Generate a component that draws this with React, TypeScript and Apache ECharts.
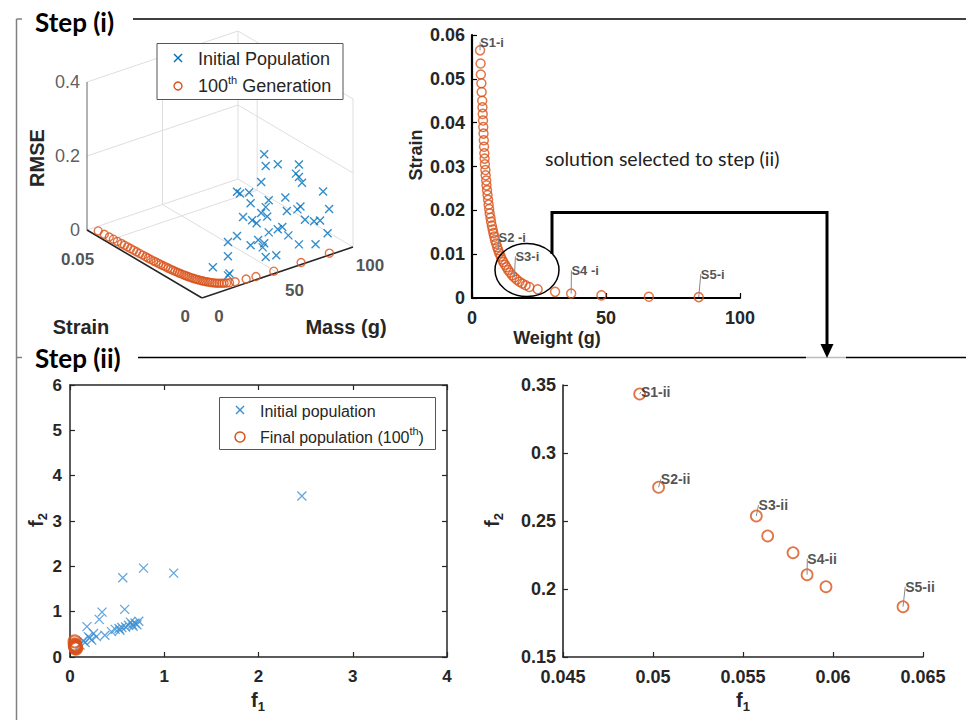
import React, { useEffect, useRef } from "react";
import * as echarts from "echarts";

// ---------------- DATA ----------------
// Step (i), 3-D view: initial population [mass (g), strain, RMSE]
const initPop3D: number[][] = [
  [45, 0.003, 0.317], [46, 0.003, 0.284], [54, 0.003, 0.278], [68, 0.003, 0.258], [66, 0.003, 0.236],
  [68, 0.003, 0.224], [70, 0.003, 0.206], [43, 0.003, 0.245], [27, 0.003, 0.241], [29, 0.003, 0.233],
  [35, 0.003, 0.228], [36, 0.003, 0.197], [48, 0.003, 0.189], [59, 0.003, 0.181], [84, 0.003, 0.163],
  [46, 0.003, 0.173], [43, 0.003, 0.161], [47, 0.003, 0.146], [31, 0.003, 0.167], [37, 0.003, 0.15],
  [40, 0.003, 0.138], [60, 0.003, 0.143], [67, 0.003, 0.138], [69, 0.003, 0.143], [88, 0.003, 0.11],
  [72, 0.003, 0.103], [78, 0.003, 0.091], [82, 0.003, 0.087], [54, 0.003, 0.102], [57, 0.003, 0.104],
  [48, 0.003, 0.102], [61, 0.003, 0.076], [87, 0.003, 0.046], [27, 0.003, 0.121], [21, 0.003, 0.113],
  [36, 0.003, 0.084], [41, 0.003, 0.091], [45, 0.003, 0.077], [44, 0.003, 0.067], [68, 0.003, 0.042],
  [79, 0.003, 0.027], [46, 0.003, 0.038], [53, 0.003, 0.033], [21, 0.003, 0.075], [11, 0.003, 0.059],
  [22, 0.003, 0.027], [21, 0.003, 0.023],
];
// 100th generation Pareto front: weight (g) and strain
const frontWeight = [3.0, 3.2, 3.3, 3.5, 3.6, 3.8, 3.9, 4.0, 4.1, 4.2, 4.3, 4.4, 4.5, 4.6, 4.7, 4.8, 5.0, 5.1, 5.3, 5.4,
  5.6, 5.8, 6.0, 6.2, 6.4, 6.6, 6.9, 7.1, 7.4, 7.7, 8.0, 8.3, 8.6, 9.0, 9.4, 9.8, 10.2, 10.7, 11.2, 11.7,
  12.3, 12.9, 13.5, 14.2, 15.0, 15.8, 16.7, 17.7, 18.8, 20.0, 21.4, 24.5, 31.0, 37.0, 48.3, 66.0, 84.6];
const frontStrain = [0.0565, 0.0535, 0.051, 0.049, 0.047, 0.045, 0.0435, 0.042, 0.0405, 0.039, 0.0375, 0.036, 0.0345,
  0.033, 0.0318, 0.0305, 0.0292, 0.028, 0.0268, 0.0257, 0.0246, 0.0235, 0.0224, 0.0213, 0.0203, 0.0193, 0.0183,
  0.0174, 0.0165, 0.0156, 0.0148, 0.014, 0.0132, 0.0124, 0.0116, 0.0109, 0.0102, 0.0095, 0.0088, 0.0082, 0.0076,
  0.007, 0.0064, 0.0058, 0.0052, 0.0047, 0.0042, 0.0037, 0.0033, 0.0029, 0.0025, 0.002, 0.0014, 0.001, 0.0006,
  0.0003, 0.0002];
const FRONT_RMSE = 0.004;
const stepOneLabels = ["S1-i", "S2 -i", "S3-i", "S4 -i", "S5-i"];
const stepOneLabelIdx = [0, 35, 45, 53, 56];

// 3-D axis ticks
const rmseTicks = [0, 0.2, 0.4];
const strainTicks3D = [0, 0.05];
const massTicks3D = [0, 50, 100];

// Step (ii): initial population (f1, f2)
const initF1 = [2.46, 0.78, 1.10, 0.56, 0.58, 0.34, 0.31, 0.18, 0.37, 0.195, 0.23, 0.14, 0.106, 0.28,
  0.44, 0.48, 0.52, 0.55, 0.59, 0.62, 0.66, 0.69, 0.73, 0.67, 0.53, 0.64, 0.71, 0.25, 0.21, 0.16];
const initF2 = [3.55, 1.96, 1.85, 1.75, 1.05, 0.99, 0.83, 0.67, 0.48, 0.45, 0.375, 0.36, 0.265, 0.45,
  0.56, 0.61, 0.63, 0.65, 0.66, 0.70, 0.72, 0.75, 0.79, 0.68, 0.59, 0.77, 0.71, 0.52, 0.42, 0.32];
// Step (ii): final population (100th)
const finalF1 = [0.04926, 0.05031, 0.05574, 0.05637, 0.05778, 0.05856, 0.05961, 0.06389];
const finalF2 = [0.3434, 0.2748, 0.2537, 0.239, 0.2267, 0.2105, 0.2017, 0.187];
const stepTwoLabels = ["S1-ii", "S2-ii", "S3-ii", "S4-ii", "S5-ii"];
const stepTwoLabelIdx = [0, 1, 2, 5, 7];

// ---------------- STYLE / LAYOUT ----------------
const BLUE = "#0072BD";
const BLUE_L = "#3d8fd1";
const ORANGE = "#D95319";
const AXIS = "#262626";
const SANS = "'Liberation Sans', Arial, sans-serif";
const TITLE = "Lato, 'Open Sans', sans-serif";
const CROSS = "path://M0,0L10,10M10,0L0,10";

// 3-D projection (oblique view) into the hidden pixel-like grid 0
const S_MAX = 0.06, M_MAX = 100, R_MAX = 0.4;
const PX_S = 115, PX_M = 151, PY_S = 68, PY_M = 51, PY_R = 148;
const proj = (m: number, s: number, r: number) => [
  PX_S * (1 - s / S_MAX) + PX_M * (m / M_MAX),
  PY_S * (s / S_MAX) + PY_M * (m / M_MAX) + PY_R * (r / R_MAX),
];

const oneLabelOff = [[12, -8], [14, -13], [13, -21], [14, -23], [14, -23]];
const twoLabelOff = [[16, -2], [17, -8], [17, -11], [15, -16], [17, -20]];

const fmt = (v: number) => String(+v.toFixed(4));

function seg(a: number[], b: number[], color: string, width: number) {
  return {
    type: "line", xAxisIndex: 0, yAxisIndex: 0, data: [a, b], symbol: "none",
    silent: true, lineStyle: { color, width }, z: 1,
  };
}

function buildOption() {
  const series: any[] = [];
  const GRID = "#dedede";
  // back walls & floor grid
  for (const r of rmseTicks.filter((v) => v > 0)) {
    series.push(seg(proj(0, S_MAX, r), proj(M_MAX, S_MAX, r), GRID, 1));
    series.push(seg(proj(M_MAX, 0, r), proj(M_MAX, S_MAX, r), GRID, 1));
  }
  for (const m of massTicks3D.filter((v) => v > 0)) {
    series.push(seg(proj(m, S_MAX, 0), proj(m, S_MAX, R_MAX), GRID, 1));
    series.push(seg(proj(m, 0, 0), proj(m, S_MAX, 0), GRID, 1));
  }
  for (const s of strainTicks3D) {
    series.push(seg(proj(M_MAX, s, 0), proj(M_MAX, s, R_MAX), GRID, 1));
    if (s > 0) series.push(seg(proj(0, s, 0), proj(M_MAX, s, 0), GRID, 1));
  }
  series.push(seg(proj(0, S_MAX, 0), proj(M_MAX, S_MAX, 0), GRID, 1));
  // axes
  series.push(seg(proj(0, S_MAX, 0), proj(0, S_MAX, R_MAX), "#666", 1));
  series.push(seg(proj(0, 0, 0), proj(0, S_MAX, 0), AXIS, 1.6));
  series.push(seg(proj(0, 0, 0), proj(M_MAX, 0, 0), AXIS, 1.6));

  const tickSeries = (data: any[], label: any) => ({
    type: "scatter", xAxisIndex: 0, yAxisIndex: 0, symbolSize: 0, silent: true, data,
    label: { show: true, formatter: (p: any) => p.value[2], ...label },
  });
  series.push(tickSeries(rmseTicks.map((r) => [...proj(0, S_MAX, r), fmt(r)]), {
    position: [-7, 0], align: "right", verticalAlign: "middle",
    fontFamily: SANS, fontSize: 18, color: "#333",
  }));
  series.push(tickSeries(strainTicks3D.map((s) => [...proj(0, s, 0), fmt(s)]), {
    position: [-12, 18], align: "right", verticalAlign: "middle",
    fontFamily: SANS, fontSize: 17, fontWeight: "bold", color: AXIS,
  }));
  series.push(tickSeries(massTicks3D.map((m) => [...proj(m, 0, 0), fmt(m)]), {
    position: [17, 18], align: "center", verticalAlign: "middle",
    fontFamily: SANS, fontSize: 17, fontWeight: "bold", color: AXIS,
  }));

  series.push({
    type: "scatter", xAxisIndex: 0, yAxisIndex: 0, symbol: CROSS, symbolSize: 8,
    data: initPop3D.map(([m, s, r]) => proj(m, s, r)),
    itemStyle: { color: "rgba(0,0,0,0)", borderColor: BLUE, borderWidth: 1.4 }, z: 3,
  });
  series.push({
    type: "scatter", xAxisIndex: 0, yAxisIndex: 0, symbol: "circle", symbolSize: 8,
    data: frontWeight.map((w, i) => proj(w, frontStrain[i], FRONT_RMSE)),
    itemStyle: { color: "rgba(0,0,0,0)", borderColor: ORANGE, borderWidth: 1.4 }, z: 4,
  });

  // ---- Step (i) 2-D Pareto front
  series.push({
    type: "scatter", xAxisIndex: 1, yAxisIndex: 1, symbol: "circle", symbolSize: 9,
    data: frontWeight.map((w, i) => [w, frontStrain[i]]),
    itemStyle: { color: "rgba(0,0,0,0)", borderColor: ORANGE, borderWidth: 1.5 }, z: 3,
  });
  series.push({
    type: "scatter", xAxisIndex: 1, yAxisIndex: 1, symbolSize: 0, silent: true,
    data: stepOneLabelIdx.map((k, i) => [frontWeight[k], frontStrain[k], stepOneLabels[i]]),
    label: {
      show: true, position: "inside", formatter: (p: any) => p.value[2],
      fontFamily: SANS, fontWeight: "bold", fontSize: 13, color: AXIS,
    },
    labelLayout: (p: any) => ({ dx: oneLabelOff[p.dataIndex][0], dy: oneLabelOff[p.dataIndex][1] }),
    labelLine: { show: true, lineStyle: { color: "#888", width: 1 } }, z: 5,
  });

  // ---- Step (ii) left
  series.push({
    type: "scatter", xAxisIndex: 2, yAxisIndex: 2, symbol: CROSS, symbolSize: 9,
    data: initF1.map((x, i) => [x, initF2[i]]),
    itemStyle: { color: "rgba(0,0,0,0)", borderColor: BLUE_L, borderWidth: 1.3 }, z: 3,
  });
  series.push({
    type: "scatter", xAxisIndex: 2, yAxisIndex: 2, symbol: "circle", symbolSize: 12,
    data: finalF1.map((x, i) => [x, finalF2[i]]),
    itemStyle: { color: "rgba(0,0,0,0)", borderColor: ORANGE, borderWidth: 2.2 }, z: 4,
  });

  // ---- Step (ii) right
  series.push({
    type: "scatter", xAxisIndex: 4, yAxisIndex: 4, symbol: "circle", symbolSize: 11,
    data: finalF1.map((x, i) => [x, finalF2[i]]),
    itemStyle: { color: "rgba(0,0,0,0)", borderColor: ORANGE, borderWidth: 1.8 }, z: 3,
  });
  series.push({
    type: "scatter", xAxisIndex: 4, yAxisIndex: 4, symbolSize: 0, silent: true,
    data: stepTwoLabelIdx.map((k, i) => [finalF1[k], finalF2[k], stepTwoLabels[i]]),
    label: {
      show: true, position: "inside", formatter: (p: any) => p.value[2],
      fontFamily: SANS, fontWeight: "bold", fontSize: 14, color: AXIS,
    },
    labelLayout: (p: any) => ({ dx: twoLabelOff[p.dataIndex][0], dy: twoLabelOff[p.dataIndex][1] }),
    labelLine: { show: true, lineStyle: { color: "#888", width: 1 } }, z: 5,
  });

  const hidden = { show: false };
  const lab = (size: number, margin: number, show = true) => ({
    show, fontFamily: SANS, fontWeight: "bold", fontSize: size, color: AXIS, margin, formatter: fmt,
  });
  const line = (color: string, width: number) => ({ show: true, onZero: false, lineStyle: { color, width } });
  const tick = (color: string) => ({ show: true, inside: true, length: 5, lineStyle: { color, width: 1.2 } });

  const xAxis: any[] = [
    { gridIndex: 0, type: "value", min: 0, max: PX_S + PX_M, axisLine: hidden, axisTick: hidden, axisLabel: hidden, splitLine: hidden },
    { gridIndex: 1, type: "value", min: 0, max: 100, interval: 50, axisLine: line("#000", 2.2), axisTick: tick("#000"), axisLabel: lab(18, 11), splitLine: hidden },
    { gridIndex: 2, type: "value", min: 0, max: 4, interval: 1, axisLine: line(AXIS, 1.5), axisTick: tick(AXIS), axisLabel: lab(17, 11), splitLine: hidden },
    { gridIndex: 2, type: "value", position: "top", min: 0, max: 4, interval: 1, axisLine: line(AXIS, 1.5), axisTick: tick(AXIS), axisLabel: hidden, splitLine: hidden },
    { gridIndex: 3, type: "value", min: 0.045, max: 0.065, interval: 0.005, axisLine: line(AXIS, 1.6), axisTick: tick(AXIS), axisLabel: lab(18, 11), splitLine: hidden },
  ];
  const yAxis: any[] = [
    { gridIndex: 0, type: "value", min: 0, max: PY_S + PY_M + PY_R, axisLine: hidden, axisTick: hidden, axisLabel: hidden, splitLine: hidden },
    { gridIndex: 1, type: "value", min: 0, max: 0.06, interval: 0.01, axisLine: line("#000", 2.2), axisTick: tick("#000"), axisLabel: lab(18, 7), splitLine: hidden },
    { gridIndex: 2, type: "value", min: 0, max: 6, interval: 1, axisLine: line(AXIS, 1.5), axisTick: tick(AXIS), axisLabel: lab(17, 8), splitLine: hidden },
    { gridIndex: 2, type: "value", position: "right", min: 0, max: 6, interval: 1, axisLine: line(AXIS, 1.5), axisTick: tick(AXIS), axisLabel: hidden, splitLine: hidden },
    { gridIndex: 3, type: "value", min: 0.15, max: 0.35, interval: 0.05, axisLine: line(AXIS, 1.6), axisTick: tick(AXIS), axisLabel: lab(18, 7), splitLine: hidden },
  ];

  const grid = [
    { left: 87, top: 31, width: PX_S + PX_M, height: PY_S + PY_M + PY_R },
    { left: 472, top: 35, width: 268, height: 263 },
    { left: 70, top: 385, width: 377, height: 272 },
    { left: 563, top: 385, width: 360, height: 272 },
  ];

  const T = (x: number, y: number, text: string, font: string, o: any = {}) => ({
    type: "text", x, y, rotation: o.rot || 0, z: 50, silent: true,
    style: {
      text, font, fill: o.fill || "#000",
      textAlign: o.align || "center", align: o.align || "center",
      textVerticalAlign: "middle", verticalAlign: "middle", rich: o.rich,
    },
  });
  const subRich = {
    i: { fontFamily: SANS, fontWeight: "bold", fontSize: 20, fill: AXIS, lineHeight: 26, verticalAlign: "middle" },
    s: { fontFamily: SANS, fontWeight: "bold", fontSize: 13, fill: AXIS, lineHeight: 26, verticalAlign: "bottom" },
  };
  const supRich = (size: number) => ({
    a: { fontFamily: SANS, fontSize: size, fill: AXIS, lineHeight: 24, verticalAlign: "middle" },
    s: { fontFamily: SANS, fontSize: 11, fill: AXIS, lineHeight: 24, verticalAlign: "top" },
  });
  const Ln = (x1: number, y1: number, x2: number, y2: number, stroke: string, w: number, z = 40) => ({
    type: "line", shape: { x1, y1, x2, y2 }, style: { stroke, lineWidth: w }, z, silent: true,
  });
  const crossG = (cx: number, cy: number, color: string) => [
    Ln(cx - 4, cy - 4, cx + 4, cy + 4, color, 1.4, 55), Ln(cx - 4, cy + 4, cx + 4, cy - 4, color, 1.4, 55),
  ];

  const graphic: any[] = [
    // frame
    Ln(16.5, 19, 16.5, 720, "#808080", 1.5),
    Ln(16.5, 19, 22, 19, "#808080", 1.5),
    Ln(16.5, 357.5, 22, 357.5, "#808080", 1.5),
    Ln(133, 19, 966, 19, "#000", 1.5),
    Ln(138, 357.5, 806, 357.5, "#000", 1.5),
    Ln(806, 357.5, 846, 357.5, "#bbbbbb", 1.5),
    Ln(846, 357.5, 966, 357.5, "#000", 1.5),
    T(35, 22, "Step (i)", `bold 26px ${TITLE}`, { align: "left" }),
    T(35, 358, "Step (ii)", `bold 26px ${TITLE}`, { align: "left" }),
    // selection arrow + ellipse
    { type: "polyline", shape: { points: [[552, 254], [552, 212.5], [827, 212.5], [827, 346]] },
      style: { stroke: "#000", lineWidth: 3, fill: "none" }, z: 40, silent: true },
    { type: "polygon", shape: { points: [[820.5, 344], [833.5, 344], [827, 358]] }, style: { fill: "#000" }, z: 40, silent: true },
    { type: "ellipse", shape: { cx: 527, cy: 270, rx: 32, ry: 26.5 }, style: { stroke: "#000", lineWidth: 1.5, fill: "none" }, z: 40, silent: true },
    T(545, 158, "solution selected to step (ii)", `19.5px ${TITLE}`, { align: "left", fill: "#222" }),
    // axis names
    T(37, 158, "RMSE", `bold 20px ${SANS}`, { rot: Math.PI / 2, fill: AXIS }),
    T(81, 327, "Strain", `bold 20px ${SANS}`, { fill: AXIS }),
    T(346, 327, "Mass (g)", `bold 20px ${SANS}`, { fill: AXIS }),
    T(416, 155, "Strain", `bold 18px ${SANS}`, { rot: Math.PI / 2, fill: AXIS }),
    T(557, 338, "Weight (g)", `bold 18px ${SANS}`, { fill: AXIS }),
    T(258, 700, "{i|f}{s|1}", `bold 20px ${SANS}`, { rich: subRich }),
    T(36, 520, "{i|f}{s|2}", `bold 20px ${SANS}`, { rot: Math.PI / 2, rich: subRich }),
    T(743, 700, "{i|f}{s|1}", `bold 20px ${SANS}`, { rich: subRich }),
    T(492, 520, "{i|f}{s|2}", `bold 20px ${SANS}`, { rot: Math.PI / 2, rich: subRich }),
    // legend 3-D
    { type: "rect", shape: { x: 157, y: 43.5, width: 186, height: 56 }, style: { fill: "#fff", stroke: "#555", lineWidth: 1 }, z: 45, silent: true },
    ...crossG(178, 58, BLUE),
    { type: "circle", shape: { cx: 178, cy: 86, r: 4 }, style: { fill: "none", stroke: ORANGE, lineWidth: 1.4 }, z: 55, silent: true },
    T(198, 59, "Initial Population", `18px ${SANS}`, { align: "left", fill: AXIS }),
    T(198, 86, "{a|100}{s|th}{a| Generation}", `18px ${SANS}`, { align: "left", rich: supRich(18) }),
    // legend step (ii)
    { type: "rect", shape: { x: 219.5, y: 397.5, width: 216, height: 52 }, style: { fill: "#fff", stroke: "#555", lineWidth: 1 }, z: 45, silent: true },
    ...crossG(240, 410, BLUE_L),
    { type: "circle", shape: { cx: 240, cy: 437, r: 5 }, style: { fill: "none", stroke: ORANGE, lineWidth: 1.5 }, z: 55, silent: true },
    T(260, 411, "Initial population", `16px ${SANS}`, { align: "left", fill: AXIS }),
    T(260, 437, "{a|Final population (100}{s|th}{a|)}", `16px ${SANS}`, { align: "left", rich: supRich(16) }),
  ];

  return { animation: false, backgroundColor: "#fff", grid, xAxis, yAxis, series, graphic };
}

export default function App() {
  const ref = useRef<HTMLDivElement>(null);
  useEffect(() => {
    document.body.style.margin = "0";
    const chart = echarts.init(ref.current!, null, { renderer: "svg" });
    chart.setOption(buildOption() as any);
    return () => chart.dispose();
  }, []);
  return <div ref={ref} style={{ width: 966, height: 720 }} />;
}
